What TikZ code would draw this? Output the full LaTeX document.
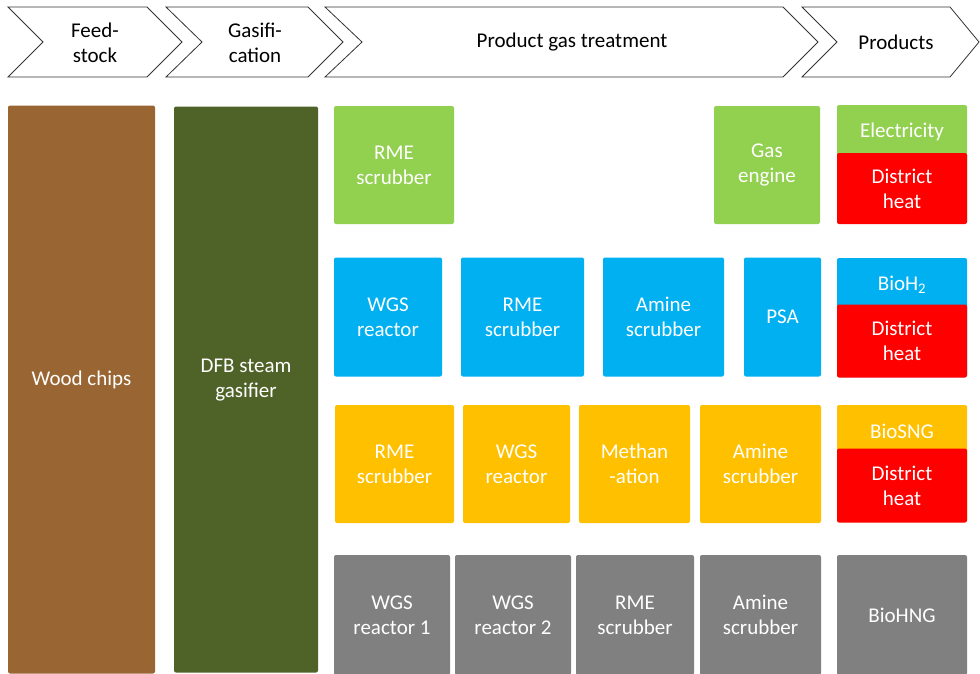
\documentclass[tikz,border=0pt]{standalone}
\usepackage{fontspec}
\setmainfont{Carlito}
\usepackage{tikz}
\usetikzlibrary{positioning}
\definecolor{woodbrown}{RGB}{153,102,51}
\definecolor{gasolive}{RGB}{79,98,40}
\definecolor{chpgreen}{RGB}{146,208,80}
\definecolor{hydroblue}{RGB}{0,176,240}
\definecolor{sngorange}{RGB}{255,192,0}
\definecolor{heatred}{RGB}{255,0,0}
\definecolor{hnggray}{RGB}{128,128,128}

\begin{document}
\begin{tikzpicture}[x=1pt, y=-1pt,
    every node/.style={font=\fontsize{21}{25}\selectfont, align=center},
    chev/.style={draw=black!80, line width=0.8pt},
    blk/.style={rounded corners=2pt, text=white, inner sep=0pt}]
  \useasboundingbox (0,0) rectangle (980,673);
  % process chain header
  \draw[chev] (8,7) -- (147,7) -- (182,42) -- (147,77) -- (8,77) -- (43,42) -- cycle;
  \draw[chev] (166,7) -- (308,7) -- (343,42) -- (308,77) -- (166,77) -- (202,42) -- cycle;
  \draw[chev] (325,7) -- (783,7) -- (818,42) -- (783,77) -- (325,77) -- (362,42) -- cycle;
  \draw[chev] (802,7) -- (950,7) -- (979,42) -- (950,77) -- (802,77) -- (837,42) -- cycle;
  \node (feed) at (95,43) {Feed-\\stock};
  \node (gasif) at (255,43) {Gasifi-\\cation};
  \node (pgt) at (572,42) {Product gas treatment};
  \node (prod) at (896,42) {Products};
  % feedstock and gasifier
  \node[blk, fill=woodbrown, minimum width=147pt, minimum height=568pt] (wood) at (81.5,389.5) {};
  \node[text=white] (woodtxt) at (81.5,380) {Wood chips};
  \node[blk, fill=gasolive, minimum width=144pt, minimum height=566pt] (dfb) at (246,389.5) {};
  \node[text=white] (dfbtxt) at (246,380) {DFB steam\\gasifier};
  % CHP route
  \node[blk, fill=chpgreen, minimum width=120pt, minimum height=118pt] (c1) at (394,165) {RME\\scrubber};
  \node[blk, fill=chpgreen, minimum width=106pt, minimum height=118pt] (c2) at (767,165) {Gas\\engine};
  % hydrogen route
  \foreach \n/\a/\b/\txt in {1/334/442/{WGS\\reactor}, 2/461/584/{RME\\scrubber},
      3/603/724/{Amine\\scrubber}, 4/744/821/{PSA}}
    \node[blk, fill=hydroblue, minimum width={(\b-\a)*1pt}, minimum height=119pt] (h\n) at ({(\a+\b)/2},317) {\txt};
  % SNG route
  \foreach \n/\a/\b/\txt in {1/335/454/{RME\\scrubber}, 2/463/570/{WGS\\reactor},
      3/579/690/{Methan\\-ation}, 4/700/821/{Amine\\scrubber}}
    \node[blk, fill=sngorange, minimum width={(\b-\a)*1pt}, minimum height=118pt] (s\n) at ({(\a+\b)/2},464) {\txt};
  % HNG route
  \foreach \n/\a/\b/\txt in {1/334/450/{WGS\\reactor 1}, 2/455/571/{WGS\\reactor 2},
      3/576/694/{RME\\scrubber}, 4/700/821/{Amine\\scrubber}}
    \node[blk, fill=hnggray, minimum width={(\b-\a)*1pt}, minimum height=120pt] (g\n) at ({(\a+\b)/2},615) {\txt};
  % products
  \node[blk, fill=chpgreen, minimum width=130pt, minimum height=118pt] (elec) at (902,164) {};
  \node[text=white] (eltxt) at (902,132) {Electricity};
  \node[blk, fill=heatred, minimum width=130pt, minimum height=71pt] (dh1) at (902,188.5) {District\\heat};
  \node[blk, fill=hydroblue, minimum width=130pt, minimum height=119pt] (bioh) at (902,317.5) {};
  \node[text=white] (bhtxt) at (902,285) {BioH\textsubscript{2}};
  \node[blk, fill=heatred, minimum width=130pt, minimum height=73pt] (dh2) at (902,341) {District\\heat};
  \node[blk, fill=sngorange, minimum width=130pt, minimum height=117pt] (biosng) at (902,463.5) {};
  \node[text=white] (bstxt) at (902,431) {BioSNG};
  \node[blk, fill=heatred, minimum width=130pt, minimum height=74pt] (dh3) at (902,485.5) {District\\heat};
  \node[blk, fill=hnggray, minimum width=130pt, minimum height=120pt] (biohng) at (902,615) {BioHNG};
\end{tikzpicture}
\end{document}
